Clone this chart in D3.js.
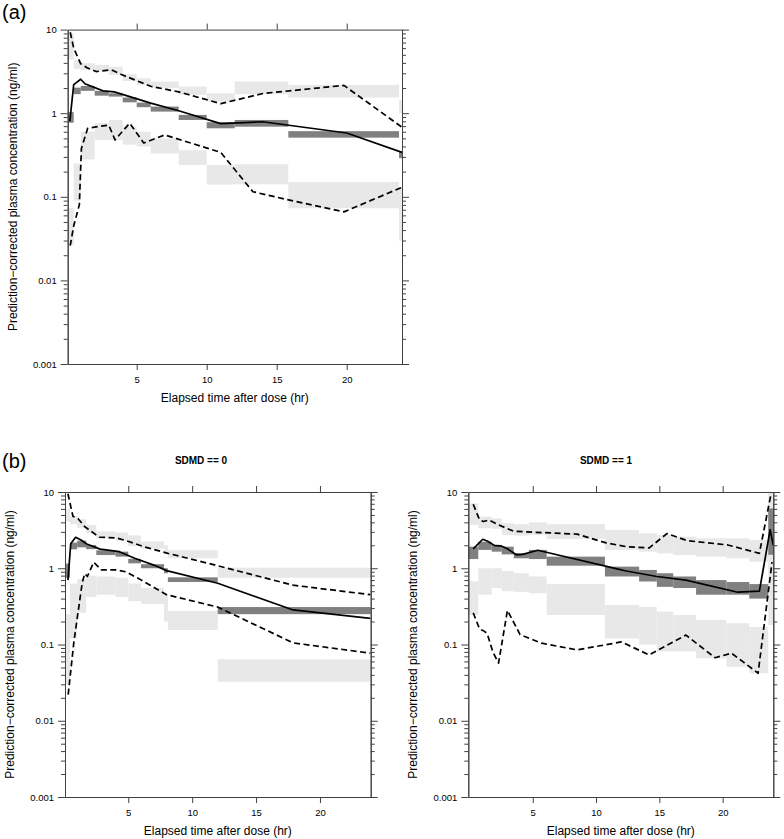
<!DOCTYPE html>
<html><head><meta charset="utf-8">
<script src="https://cdn.jsdelivr.net/npm/d3@7"></script>
<style>body{margin:0;background:#fff;} svg{display:block;font-family:"Liberation Sans",Arial,Helvetica,sans-serif;}</style>
</head><body><svg id="c" width="784" height="839"></svg>
<script>
// ---------- shared tick labels ----------
const yTickValues = [0.001, 0.01, 0.1, 1, 10];
const yTickLabels = ["0.001", "0.01", "0.1", "1", "10"];
const xTickValues = [5, 10, 15, 20];
const panelTitles = ["SDMD == 0", "SDMD == 1"];
const yTitle = "Prediction\u2212corrected plasma concentration (ng/ml)";
const xTitle = "Elapsed time after dose (hr)";

// ---------- panel (a): [tStart, tEnd, low, high] ----------
const aMedianCI = [
  [0.07,0.5,0.77,1.03],[0.5,1,1.69,2.02],[1,2,1.85,2.12],[2,3,1.62,1.85],[3,4,1.58,1.73],
  [4,5,1.35,1.54],[5,6,1.18,1.34],[6,8,1.045,1.2],[8,10,0.83,0.955],[10,12,0.66,0.78],
  [12,15.83,0.69,0.83],[15.83,23.74,0.51,0.61],[23.74,23.95,0.29,0.35]];
const aUpperCI = [
  [0.07,0.5,4.4,9.0],[0.5,1,3.4,4.3],[1,2,3.3,3.96],[2,3,3.15,3.78],[3,4,2.87,3.6],
  [4,5,2.43,2.93],[5,6,2.18,2.62],[6,8,1.99,2.39],[8,10,1.66,2.08],[10,12,1.38,1.73],
  [12,15.83,1.69,2.39],[15.83,23.74,1.54,2.18],[23.74,23.95,1.0,1.44]];
const aLowerCI = [
  [0.07,0.5,0.0266,0.073],[0.5,1,0.09,0.25],[1,2,0.28,0.60],[2,3,0.48,0.76],[3,4,0.48,0.83],
  [4,5,0.42,0.69],[5,6,0.40,0.60],[6,8,0.33,0.50],[8,10,0.24,0.36],[10,12,0.14,0.24],
  [12,15.83,0.141,0.245],[15.83,23.74,0.073,0.15],[23.74,23.95,0.03,0.13]];
// observed percentiles: [time, value]
const aObsMedian = [[0.22,0.8],[0.5,2.2],[1.0,2.55],[1.3,2.25],[2.6,1.85],[3.4,1.8],[6,1.32],[8,1.07],[11,0.75],[14,0.79],[20,0.58],[23.95,0.34]];
const aObsP95 = [[0.25,9.3],[0.5,6.0],[1.0,3.9],[1.45,3.5],[2.1,3.15],[3.2,3.3],[3.9,2.9],[6,2.1],[8,1.8],[11,1.3],[14,1.72],[19.8,2.15],[23.95,0.68]];
const aObsP5 = [[0.25,0.026],[0.5,0.045],[0.9,0.08],[1.05,0.38],[1.5,0.66],[2.4,0.70],[3.0,0.72],[3.45,0.48],[4.5,0.76],[5.5,0.44],[7.0,0.55],[11,0.34],[13.3,0.115],[15.7,0.093],[19.8,0.066],[23.95,0.13]];

// ---------- panel (b) SDMD == 0 ----------
const b0MedianCI = [
  [0.05,0.44,0.75,1.15],[0.44,1.0,1.77,2.17],[1.0,1.7,1.88,2.3],[1.7,2.5,1.78,2.02],[2.5,4.0,1.49,1.72],
  [4.0,5.0,1.42,1.65],[5.0,6.0,1.16,1.33],[6.0,7.8,1.0,1.13],[7.8,8.1,0.86,1.0],[8.1,12.0,0.66,0.76],
  [12.0,23.97,0.25,0.31]];
const b0UpperCI = [
  [0.05,0.44,4.1,6.0],[0.44,1.0,3.8,4.8],[1.0,1.7,3.4,4.4],[1.7,2.5,2.9,3.7],[2.5,4.0,2.47,3.05],
  [4.0,5.0,2.3,2.95],[5.0,6.0,1.95,2.7],[6.0,7.8,1.8,2.25],[7.8,8.1,1.55,2.0],[8.1,12.0,1.35,1.72],
  [12.0,23.97,0.75,1.02]];
const b0LowerCI = [
  [0.05,0.44,0.03,0.25],[0.44,1.0,0.12,0.63],[1.0,1.7,0.26,0.72],[1.7,2.5,0.42,0.80],[2.5,4.0,0.45,0.78],
  [4.0,5.0,0.42,0.75],[5.0,6.0,0.37,0.63],[6.0,7.8,0.34,0.55],[7.8,8.1,0.2,0.45],[8.1,12.0,0.155,0.275],
  [12.0,23.97,0.0325,0.064]];
const b0ObsMedian = [[0.28,0.70],[0.5,2.1],[0.88,2.55],[1.3,2.35],[1.75,2.08],[2.8,1.78],[4.3,1.65],[5.5,1.35],[7.0,1.10],[8.0,0.93],[12.0,0.635],[17.9,0.284],[23.95,0.22]];
const b0ObsP95 = [[0.28,9.5],[0.67,4.8],[1.06,4.5],[1.6,3.5],[2.75,2.55],[4.05,2.5],[4.85,2.3],[6.2,1.92],[8.1,1.57],[12,1.08],[17.9,0.6],[23.95,0.45]];
const b0ObsP5 = [[0.3,0.022],[0.75,0.11],[1.4,0.65],[1.6,0.85],[1.8,0.78],[2.3,1.2],[2.9,0.95],[4.0,0.95],[4.8,0.9],[5.9,0.72],[8.0,0.45],[12,0.31],[17.9,0.105],[23.95,0.077]];

// ---------- panel (b) SDMD == 1 ----------
const b1MedianCI = [
  [-0.09,0.7,1.32,1.92],[0.7,1.75,1.74,2.23],[1.75,2.55,1.65,2.02],[2.55,3.5,1.52,1.92],[3.5,4.7,1.35,1.58],
  [4.7,6.1,1.32,1.74],[6.1,10.7,1.08,1.42],[10.7,13.4,0.78,1.05],[13.4,14.8,0.67,0.95],[14.8,16.1,0.57,0.86],
  [16.1,17.9,0.55,0.78],[17.9,20.3,0.45,0.70],[20.3,22.1,0.45,0.66],[22.1,23.6,0.40,0.62],[23.6,24,1.5,6.1]];
const b1UpperCI = [
  [-0.09,0.7,3.7,7.1],[0.7,1.75,3.35,4.76],[1.75,2.55,3.3,4.5],[2.55,3.5,2.73,3.9],[3.5,4.7,2.68,3.78],
  [4.7,6.1,2.73,4.0],[6.1,10.7,2.42,3.78],[10.7,13.4,1.74,3.18],[13.4,14.8,1.65,2.88],[14.8,16.1,1.57,2.73],
  [16.1,17.9,1.49,2.6],[17.9,20.3,1.42,2.47],[20.3,22.1,1.35,2.47],[22.1,23.6,1.22,2.35],[23.6,24,6.1,10]];
const b1LowerCI = [
  [-0.09,0.7,0.244,0.67],[0.7,1.75,0.45,1.0],[1.75,2.55,0.55,1.0],[2.55,3.5,0.5,0.92],[3.5,4.7,0.49,0.86],
  [4.7,6.1,0.47,0.78],[6.1,10.7,0.244,0.62],[10.7,13.4,0.12,0.33],[13.4,14.8,0.10,0.31],[14.8,16.1,0.081,0.27],
  [16.1,17.9,0.081,0.244],[17.9,20.3,0.066,0.21],[20.3,22.1,0.051,0.19],[22.1,23.6,0.042,0.17],[23.6,24,0.18,1.5]];
const b1ObsMedian = [[0.3,1.8],[1.05,2.4],[1.4,2.28],[2.0,1.98],[2.5,1.96],[3.0,1.8],[3.7,1.5],[4.2,1.52],[5.4,1.72],[12.0,0.95],[12.4,0.92],[14.8,0.78],[17.1,0.70],[21.2,0.485],[22.9,0.50],[23.75,3.2],[24.0,2.0]];
const b1ObsP95 = [[0.3,6.9],[0.8,4.3],[1.1,4.1],[1.55,4.3],[2.3,3.7],[3.5,3.05],[5.9,2.93],[8.5,2.8],[10.8,2.15],[12.4,1.92],[14.2,1.85],[15.6,2.85],[17.2,2.3],[20.4,2.02],[22.9,1.57],[23.85,10.0]];
const b1ObsP5 = [[0.3,0.26],[0.8,0.16],[1.15,0.15],[1.4,0.14],[1.85,0.08],[2.3,0.057],[3.0,0.28],[4.0,0.135],[5.7,0.104],[8.5,0.085],[12.0,0.108],[14.2,0.073],[17.1,0.133],[19.4,0.067],[20.7,0.077],[22.8,0.042],[23.9,1.2]];

// ---------- drawing ----------
const svg = d3.select("#c");
const LIGHT = "#e8e8e8", DARK = "#808080", AXIS = "#404040";
const minorTicks = [];
for (let e = -3; e <= 0; e++) for (let m = 2; m <= 9; m++) minorTicks.push(m * Math.pow(10, e));

function drawPanel(p) {
  const g = svg.append("g");
  const x = d3.scaleLinear().domain(p.xDomain).range([p.left, p.right]);
  const y = d3.scaleLog().domain([0.001, 10]).range([p.bottom, p.top]);

  const boxes = (data, fill) => g.append("g").selectAll("rect").data(data).join("rect")
    .attr("x", d => x(d[0])).attr("width", d => x(d[1]) - x(d[0]))
    .attr("y", d => y(d[3])).attr("height", d => y(d[2]) - y(d[3]))
    .attr("fill", fill);
  boxes(p.upper, LIGHT);
  boxes(p.lower, LIGHT);
  boxes(p.median, DARK);

  const line = d3.line().x(d => x(d[0])).y(d => y(d[1]));
  const path = (data, dash) => g.append("path").datum(data).attr("d", line)
    .attr("fill", "none").attr("stroke", "#000").attr("stroke-width", 1.7)
    .attr("stroke-dasharray", dash).attr("stroke-linejoin", "round");
  path(p.p95, "6,3.5");
  path(p.p5, "6,3.5");
  path(p.med, null);

  const styleAxis = sel => {
    sel.selectAll("path").attr("stroke", AXIS);
    sel.selectAll("line").attr("stroke", AXIS);
    sel.selectAll("text").attr("font-size", "9.5px").attr("fill", "#000")
      .attr("font-family", '"Liberation Sans",Arial,sans-serif');
  };
  // left major
  g.append("g").attr("transform", `translate(${p.left},0)`)
    .call(d3.axisLeft(y).tickValues(yTickValues).tickFormat((d, i) => yTickLabels[i]).tickSize(7).tickPadding(4).tickSizeOuter(0))
    .call(styleAxis);
  g.append("g").attr("transform", `translate(${p.left},0)`)
    .call(d3.axisLeft(y).tickValues(minorTicks).tickFormat("").tickSize(4).tickSizeOuter(0))
    .call(styleAxis);
  // right
  g.append("g").attr("transform", `translate(${p.right},0)`)
    .call(d3.axisRight(y).tickValues(yTickValues).tickFormat("").tickSize(7).tickSizeOuter(0))
    .call(styleAxis);
  g.append("g").attr("transform", `translate(${p.right},0)`)
    .call(d3.axisRight(y).tickValues(minorTicks).tickFormat("").tickSize(4).tickSizeOuter(0))
    .call(styleAxis);
  // bottom
  g.append("g").attr("transform", `translate(0,${p.bottom})`)
    .call(d3.axisBottom(x).tickValues(xTickValues).tickFormat(d3.format("d")).tickSize(6).tickPadding(6).tickSizeOuter(0))
    .call(styleAxis);
  // top
  g.append("g").attr("transform", `translate(0,${p.top})`)
    .call(d3.axisTop(x).tickValues(xTickValues).tickFormat("").tickSize(6).tickSizeOuter(0))
    .call(styleAxis);

  g.append("text").attr("x", (p.left + p.right) / 2).attr("y", p.bottom + 38)
    .attr("text-anchor", "middle").attr("font-size", "12px").text(xTitle);
  g.append("text").attr("transform", `translate(${p.left - 51},${(p.top + p.bottom) / 2}) rotate(-90)`)
    .attr("text-anchor", "middle").attr("font-size", "12px").text(yTitle);
  if (p.title) g.append("text").attr("x", p.titleX).attr("y", p.top - 28.5)
    .attr("text-anchor", "middle").attr("font-size", "10px").attr("font-weight", "bold").text(p.title);
}

drawPanel({left: 67.7, right: 402, top: 29.6, bottom: 364, xDomain: [0.07, 23.95],
  upper: aUpperCI, lower: aLowerCI, median: aMedianCI, med: aObsMedian, p95: aObsP95, p5: aObsP5});
drawPanel({left: 65, right: 370.7, top: 492, bottom: 797, xDomain: [0.05, 23.97],
  upper: b0UpperCI, lower: b0LowerCI, median: b0MedianCI, med: b0ObsMedian, p95: b0ObsP95, p5: b0ObsP5,
  title: panelTitles[0], titleX: 201});
drawPanel({left: 468.3, right: 773.3, top: 492, bottom: 797, xDomain: [-0.09, 24],
  upper: b1UpperCI, lower: b1LowerCI, median: b1MedianCI, med: b1ObsMedian, p95: b1ObsP95, p5: b1ObsP5,
  title: panelTitles[1], titleX: 606});

svg.append("text").attr("x", 2).attr("y", 19).attr("font-size", "20px").text("(a)");
svg.append("text").attr("x", 2).attr("y", 467.5).attr("font-size", "20px").text("(b)");
</script></body></html>
